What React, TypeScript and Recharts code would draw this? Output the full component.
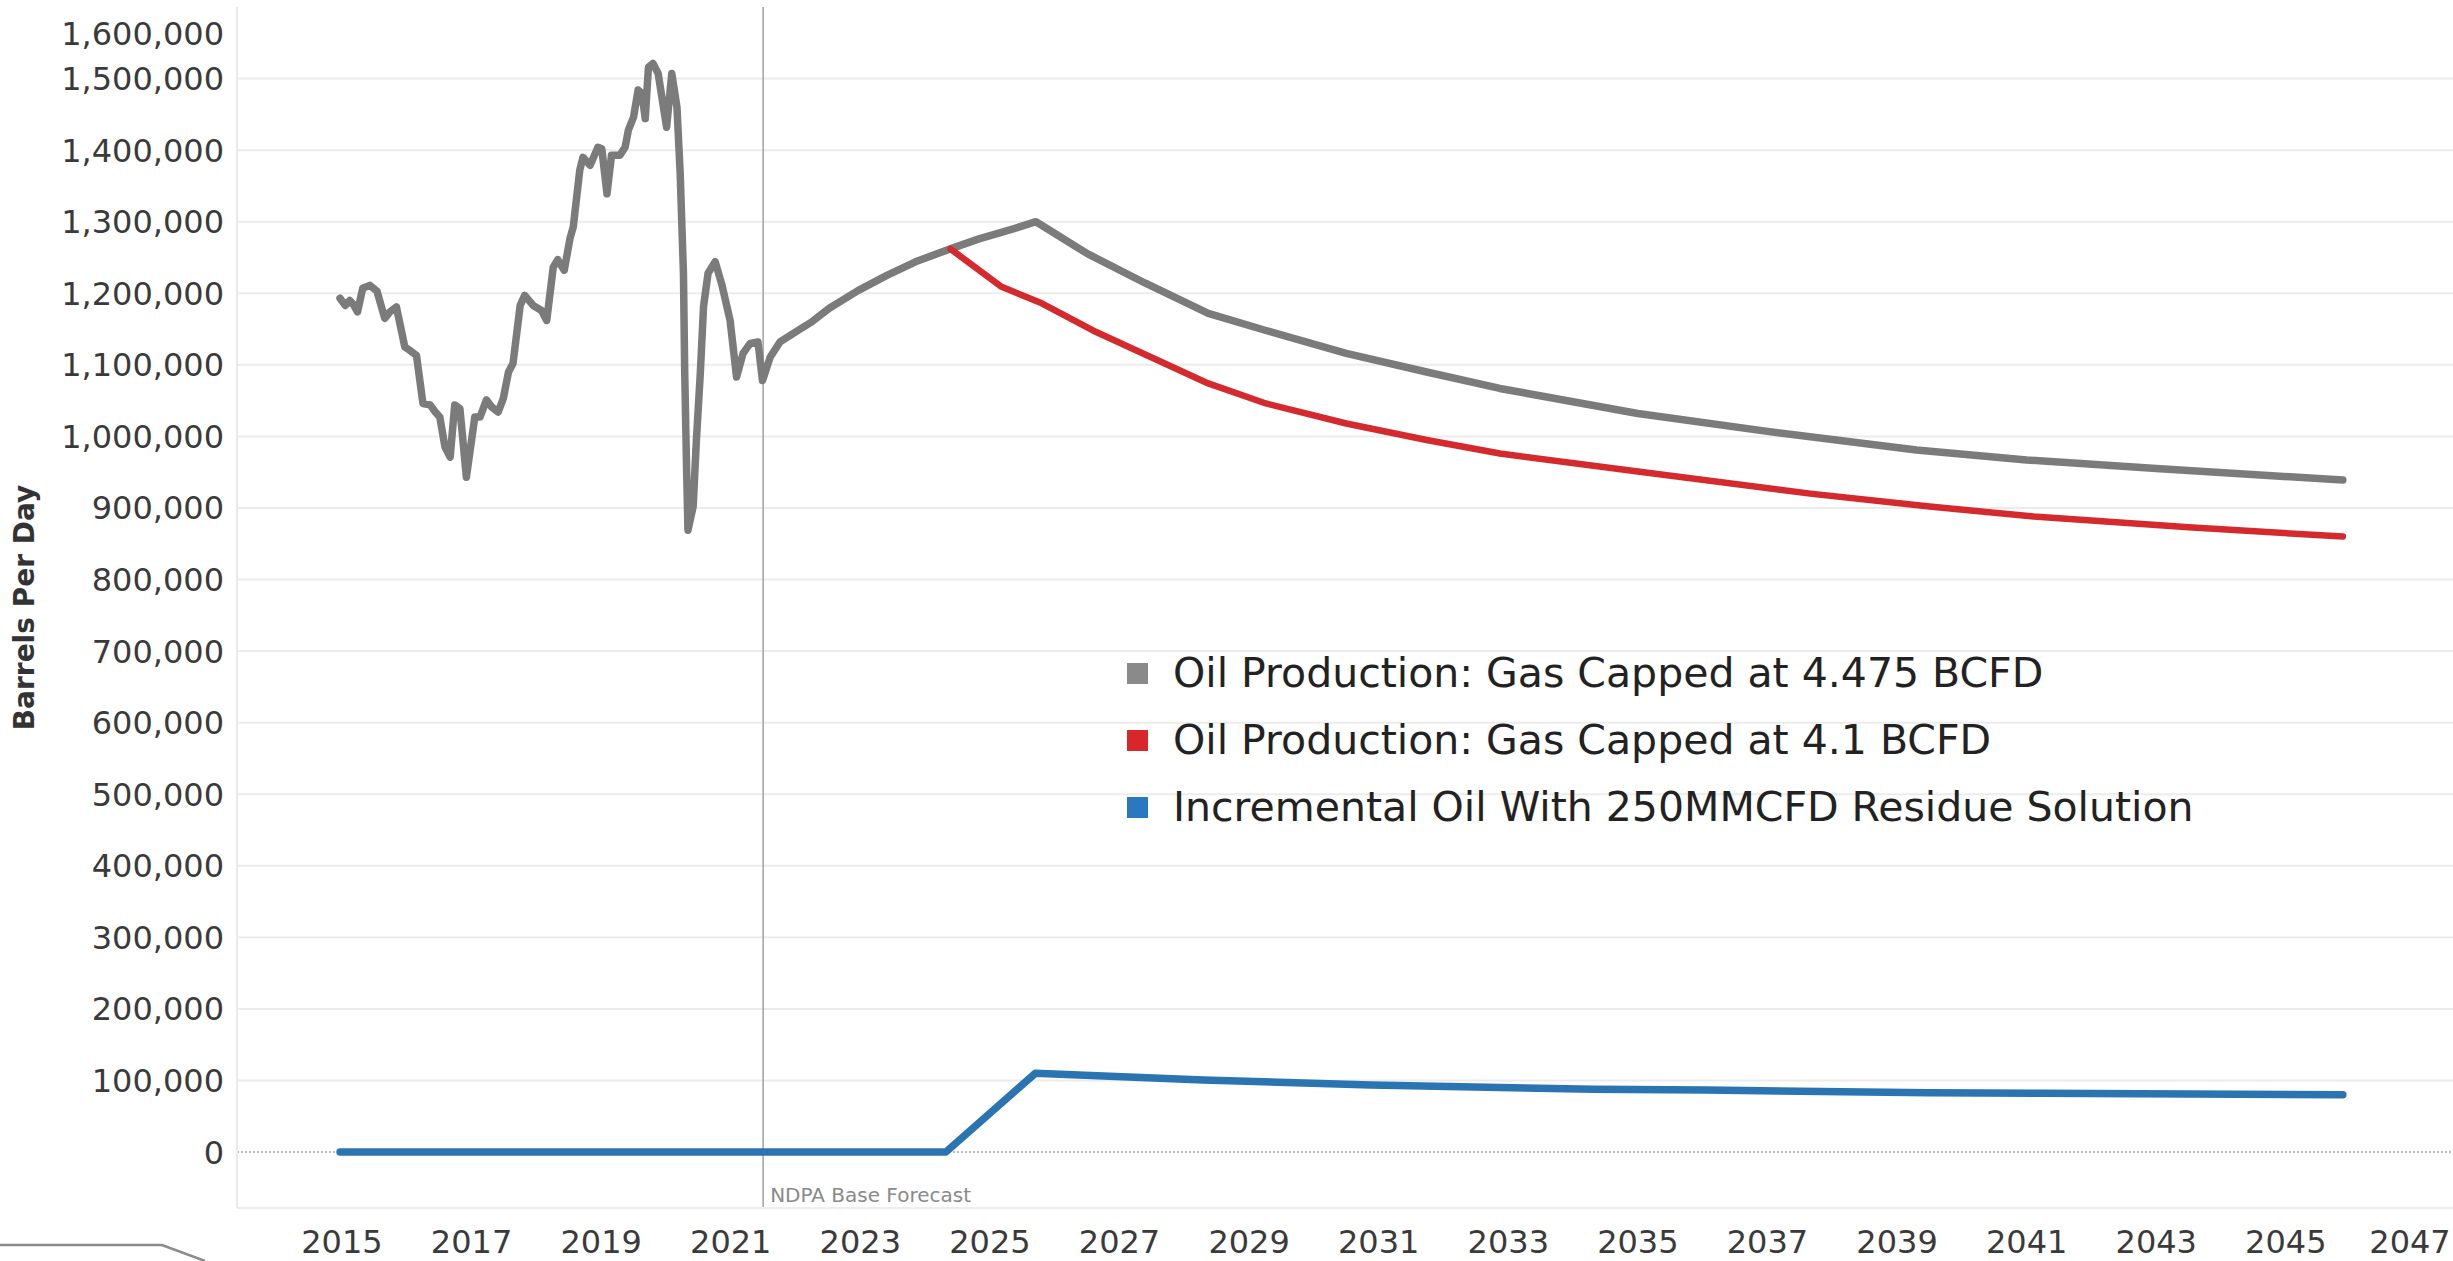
import React from 'react';
import { LineChart, Line, XAxis, YAxis, CartesianGrid, ReferenceLine, Legend, Label } from 'recharts';

// Oil Production: Gas Capped at 4.475 BCFD (history + forecast)
const grayYears = [
  2014.97, 2015.05, 2015.12, 2015.17, 2015.24, 2015.32, 2015.43, 2015.54, 2015.66, 2015.74, 2015.84, 2015.97,
  2016.05, 2016.15, 2016.25, 2016.36, 2016.44, 2016.51, 2016.59, 2016.67, 2016.74, 2016.82, 2016.92,
  2017.05, 2017.13, 2017.23, 2017.31, 2017.41, 2017.49, 2017.57, 2017.64, 2017.75, 2017.82, 2017.95,
  2018.08, 2018.16, 2018.26, 2018.33, 2018.43, 2018.52, 2018.57, 2018.67, 2018.72, 2018.83, 2018.95,
  2019.01, 2019.09, 2019.16, 2019.29, 2019.37, 2019.42, 2019.5, 2019.57, 2019.63, 2019.68, 2019.73, 2019.8, 2019.88,
  2020.01, 2020.09, 2020.17, 2020.22, 2020.27, 2020.29, 2020.32, 2020.34, 2020.42, 2020.47, 2020.53, 2020.58, 2020.65, 2020.76, 2020.86, 2020.99,
  2021.09, 2021.19, 2021.3, 2021.42, 2021.49, 2021.61, 2021.76,
  2022.07, 2022.25, 2022.52, 2022.97, 2023.41, 2023.85, 2024.39, 2024.83, 2025.36, 2025.71,
  2026.51, 2027.4, 2028.37, 2029.26, 2030.5, 2031.74, 2032.87, 2035.0, 2037.0, 2039.3, 2041.0, 2043.0, 2045.88,
];
const grayValues = [
  1193000, 1183000, 1190000, 1185000, 1174000, 1207000, 1211000, 1203000, 1165000, 1174000, 1181000, 1125000,
  1120000, 1113000, 1046000, 1044000, 1034000, 1027000, 985000, 971000, 1044000, 1039000, 943000,
  1027000, 1027000, 1051000, 1041000, 1034000, 1053000, 1090000, 1102000, 1183000, 1197000, 1183000,
  1176000, 1162000, 1236000, 1247000, 1232000, 1277000, 1293000, 1372000, 1390000, 1379000, 1404000,
  1402000, 1339000, 1393000, 1393000, 1404000, 1428000, 1446000, 1484000, 1479000, 1444000, 1516000, 1521000, 1507000,
  1432000, 1507000, 1460000, 1367000, 1228000, 1088000, 948000, 869000, 902000, 995000, 1088000, 1181000, 1228000, 1244000, 1213000, 1162000,
  1083000, 1116000, 1130000, 1132000, 1078000, 1111000, 1132000,
  1150000, 1160000, 1179000, 1204000, 1225000, 1244000, 1262000, 1276000, 1290000, 1300000,
  1255000, 1214000, 1172000, 1148000, 1116000, 1090000, 1067000, 1032000, 1007000, 981000, 967000, 955000, 939000,
];

// Oil Production: Gas Capped at 4.1 BCFD
const redYears = [2024.39, 2025.18, 2025.8, 2026.59, 2027.48, 2028.37, 2029.26, 2030.5, 2031.74, 2032.87, 2035.0, 2037.66, 2039.5, 2041.11, 2043.5, 2045.88];
const redValues = [1262000, 1209000, 1186000, 1148000, 1111000, 1074000, 1046000, 1018000, 995000, 976000, 951000, 920000, 902000, 888000, 873000, 860000];

// Incremental Oil With 250MMCFD Residue Solution
const blueYears = [2014.97, 2024.32, 2025.7, 2028.29, 2030.88, 2034.32, 2036.05, 2039.5, 2041.22, 2045.88];
const blueValues = [0, 0, 110000, 100600, 93600, 87600, 86600, 83000, 82000, 80000];

const xTicks = [2015, 2017, 2019, 2021, 2023, 2025, 2027, 2029, 2031, 2033, 2035, 2037, 2039, 2041, 2043, 2045, 2047];
const yTicks = [0, 100000, 200000, 300000, 400000, 500000, 600000, 700000, 800000, 900000, 1000000, 1100000, 1200000, 1300000, 1400000, 1500000, 1600000];
const gridValues = [100000, 200000, 300000, 400000, 500000, 600000, 700000, 800000, 900000, 1000000, 1100000, 1200000, 1300000, 1400000, 1500000];

const seriesNames = [
  'Oil Production: Gas Capped at 4.475 BCFD',
  'Oil Production: Gas Capped at 4.1 BCFD',
  'Incremental Oil With 250MMCFD Residue Solution',
];
const seriesColors = ['#7b7b7b', '#d42a2e', '#2b74b2'];
const legendColors = ['#8a8a8a', '#d8262b', '#2a78bd'];

const forecastStart = 2021.5;
const forecastLabel = 'NDPA Base Forecast';
const yTitle = 'Barrels Per Day';

const CHART_W = 2453;
const CHART_H = 1261;

const toData = (xs: number[], vs: number[]) => xs.map((x, i) => ({ x, v: vs[i] }));
const grayData = toData(grayYears, grayValues);
const redData = toData(redYears, redValues);
const blueData = toData(blueYears, blueValues);

const FONT = "'DejaVu Sans', sans-serif";
const fmt = (v: number) => v.toLocaleString('en-US');

const YTick = (props: any) => {
  const { x, y, payload } = props;
  const yy = Math.max(y, 33);
  return (
    <text x={x} y={yy} dy="0.36em" textAnchor="end" fontFamily={FONT} fontSize={32} fill="#3a3a3a">
      {fmt(payload.value)}
    </text>
  );
};

const XTick = (props: any) => {
  const { x, y, payload } = props;
  const xx = Math.min(x, CHART_W - 43);
  return (
    <text x={xx} y={y} dy="0.71em" textAnchor="middle" fontFamily={FONT} fontSize={32} fill="#3a3a3a">
      {payload.value}
    </text>
  );
};

const YTitle = (props: any) => {
  const vb = props.viewBox;
  const cx = vb.x + 24;
  const cy = vb.y + vb.height / 2;
  return (
    <text x={cx} y={cy} transform={`rotate(-90, ${cx}, ${cy})`} textAnchor="middle" dominantBaseline="central"
      fontFamily={FONT} fontWeight="bold" fontSize={28} fill="#333">
      {yTitle}
    </text>
  );
};

const NdpaLabel = (props: any) => {
  const vb = props.viewBox;
  return (
    <text x={vb.x + 7} y={vb.y + vb.height - 6} fontFamily={FONT} fontSize={20} fill="#8a8a8a">
      {forecastLabel}
    </text>
  );
};

const LegendContent = () => (
  <div style={{ fontFamily: FONT }}>
    {seriesNames.map((name, i) => (
      <div key={name} style={{ display: 'flex', alignItems: 'center', height: 67 }}>
        <div style={{ width: 21, height: 21, background: legendColors[i], marginRight: 25, flex: 'none' }} />
        <span style={{ fontSize: 41, color: '#222', whiteSpace: 'nowrap', lineHeight: '67px' }}>{name}</span>
      </div>
    ))}
  </div>
);

export default function App() {
  return (
    <div style={{ position: 'absolute', left: 0, top: 0, width: CHART_W, height: CHART_H, background: '#fff', overflow: 'hidden' }}>
      <LineChart width={CHART_W} height={CHART_H} margin={{ top: 7, right: 0, bottom: 0, left: 0 }}>
        <CartesianGrid vertical={false} stroke="#ececec" strokeWidth={2} horizontalValues={gridValues} />
        <XAxis
          dataKey="x"
          type="number"
          domain={[2013.38, 2047.58]}
          ticks={xTicks}
          allowDataOverflow
          height={53}
          tickSize={0}
          tickMargin={22}
          axisLine={{ stroke: '#eeeeee', strokeWidth: 2 }}
          tick={<XTick />}
          interval={0}
        />
        <YAxis
          type="number"
          domain={[-78200, 1600000]}
          ticks={yTicks}
          allowDataOverflow
          width={237}
          tickSize={0}
          tickMargin={13}
          axisLine={{ stroke: '#eaeaea', strokeWidth: 2 }}
          tick={<YTick />}
          interval={0}
        >
          <Label content={<YTitle />} />
        </YAxis>
        <ReferenceLine y={0} stroke="#a8a8a8" strokeWidth={1.5} strokeDasharray="2 2" />
        <ReferenceLine x={forecastStart} stroke="#a0a0a0" strokeWidth={1.5} label={<NdpaLabel />} />
        <Legend
          layout="vertical"
          align="center"
          verticalAlign="middle"
          content={<LegendContent />}
          wrapperStyle={{ left: 1127, top: 640, width: 1300, height: 201 }}
        />
        <Line data={grayData} dataKey="v" name={seriesNames[0]} type="linear" stroke={seriesColors[0]} strokeWidth={7.5} dot={false} isAnimationActive={false} strokeLinejoin="round" strokeLinecap="round" />
        <Line data={redData} dataKey="v" name={seriesNames[1]} type="linear" stroke={seriesColors[1]} strokeWidth={6.5} dot={false} isAnimationActive={false} strokeLinejoin="round" strokeLinecap="round" />
        <Line data={blueData} dataKey="v" name={seriesNames[2]} type="linear" stroke={seriesColors[2]} strokeWidth={7.5} dot={false} isAnimationActive={false} strokeLinejoin="round" strokeLinecap="round" />
      </LineChart>
      <svg width={220} height={30} style={{ position: 'absolute', left: 0, top: 1235 }}>
        <polyline points="0,10 162,10 205,26" fill="none" stroke="#8a8a8a" strokeWidth={2.5} />
      </svg>
    </div>
  );
}
